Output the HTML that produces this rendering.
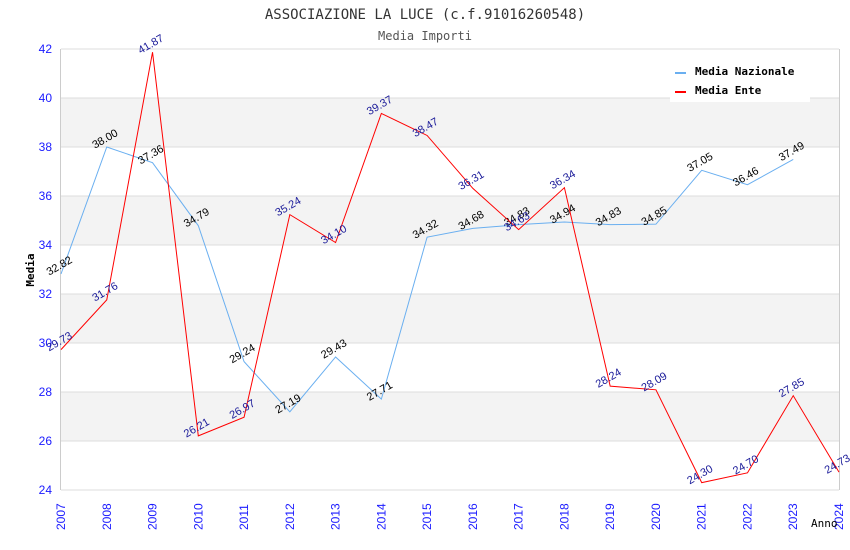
<!DOCTYPE html>
<html><head><meta charset="utf-8"><style>
body{margin:0;background:#fff}
svg{display:block;font-family:"Liberation Sans",sans-serif}
.mono{font-family:"DejaVu Sans Mono","Liberation Mono",monospace}
</style></head><body>
<svg id="c" width="850" height="550">
<text x="425" y="19" text-anchor="middle" class="mono" font-size="14" fill="#333">ASSOCIAZIONE LA LUCE (c.f.91016260548)</text>
<text x="425" y="40" text-anchor="middle" class="mono" font-size="12" fill="#555">Media Importi</text>
<g id="grid"></g><g id="marks"></g>
<text transform="translate(34,270) rotate(-90)" text-anchor="middle" class="mono" font-size="11" font-weight="bold" fill="#000">Media</text>
<text x="811" y="527" class="mono" font-size="11" fill="#000">Anno</text>
<g>
<rect x="670" y="57" width="140" height="45" fill="#fff"/>
<rect x="675" y="72" width="11" height="2" fill="#6aaff0"/>
<text x="695" y="75" class="mono" font-size="11" font-weight="bold">Media Nazionale</text>
<rect x="675" y="91" width="11" height="2" fill="#ff0000"/>
<text x="695" y="94" class="mono" font-size="11" font-weight="bold">Media Ente</text>
</g>
</svg>
<script>
const years=[2007,2008,2009,2010,2011,2012,2013,2014,2015,2016,2017,2018,2019,2020,2021,2022,2023,2024];
const nazionale=[32.82,38.00,37.36,34.79,29.24,27.19,29.43,27.71,34.32,34.68,34.83,34.94,34.83,34.85,37.05,36.46,37.49];
const ente=[29.73,31.76,41.87,26.21,26.97,35.24,34.10,39.37,38.47,36.31,34.63,36.34,28.24,28.09,24.30,24.70,27.85,24.73];
const yTicks=[24,26,28,30,32,34,36,38,40,42];
const NS="http://www.w3.org/2000/svg";
const L=61,R=839,T=49,B=490;
const x=i=>L+i*(R-L)/(years.length-1);
const y=v=>B-(v-24)*(B-T)/18;
function mk(tag,a,p){const e=document.createElementNS(NS,tag);for(const k in a)e.setAttribute(k,a[k]);p.appendChild(e);return e;}
const g=document.getElementById('grid'),m=document.getElementById('marks');
for(let i=0;i<yTicks.length-1;i++){if(i%2===1){const r=mk('rect',{x:L,y:y(yTicks[i+1]),width:R-L,height:y(yTicks[i])-y(yTicks[i+1]),fill:'#f3f3f3'},g);

}}
yTicks.forEach(v=>{const l=mk('line',{x1:L,x2:R,y1:y(v),y2:y(v),stroke:'#ddd'},g);


const t=mk('text',{x:52,y:y(v)+4,'text-anchor':'end','font-size':12,fill:'#1a1aff'},g);t.textContent=v;

});
mk('line',{x1:L-0.5,x2:L-0.5,y1:T,y2:B,stroke:'#ccc'},g);
mk('line',{x1:R+0.5,x2:R+0.5,y1:T,y2:B,stroke:'#ccc'},g);
years.forEach((yr,i)=>{const t=mk('text',{transform:`translate(${x(i)+4},${B+40}) rotate(-90)`,'font-size':12,fill:'#1a1aff'},g);t.textContent=yr;

});
function series(arr,color,lc,name){
const p=mk('polyline',{points:arr.map((v,i)=>x(i)+','+y(v)).join(' '),fill:'none',stroke:color,'stroke-width':1},m);


arr.forEach((v,i)=>{const t=mk('text',{transform:`translate(${x(i)},${y(v)-5}) rotate(-30)`,'text-anchor':'middle','font-size':11,fill:lc},m);t.textContent=v.toFixed(2);

});}
series(nazionale,'#6aaff0','#000','nazionale');
series(ente,'#ff0000','#1a1a99','ente');
</script>
</body></html>
